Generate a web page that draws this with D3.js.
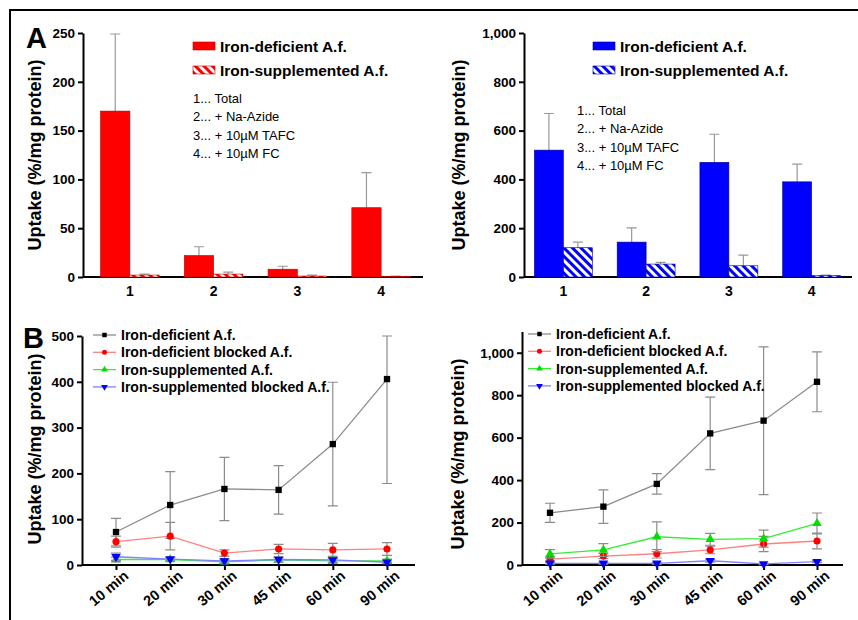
<!DOCTYPE html>
<html>
<head>
<meta charset="utf-8">
<script src="https://cdn.jsdelivr.net/npm/d3@7"></script>
<style>
  body { margin: 0; background: #fff; }
  svg { font-family: "Liberation Sans", Arial, sans-serif; }
</style>
</head>
<body>
<div id="chart"></div>
<script>
// Data

// Panel A
var categories = ["1", "2", "3", "4"];
var defA1 = [170, 22, 8, 71];
var defA1Err = [79, 9, 3, 36];
var supA1 = [2, 3, 1, 0.5];
var supA1Err = [1, 2, 1, 0.5];
var defA2 = [520, 143, 470, 390];
var defA2Err = [150, 58, 115, 73];
var supA2 = [120, 53, 46, 6];
var supA2Err = [23, 7, 44, 2];
var notes = ["1... Total", "2... + Na-Azide", "3... + 10\u00b5M TAFC", "4... + 10\u00b5M FC"];

// Panel B
var times = ["10 min", "20 min", "30 min", "45 min", "60 min", "90 min"];
var seriesNames = ["Iron-deficient A.f.", "Iron-deficient blocked A.f.",
                   "Iron-supplemented A.f.", "Iron-supplemented blocked A.f."];
var defB1 = [72, 131, 166, 164, 264, 406];
var defB1Err = [30, 73, 69, 53, 135, 228];
var defBlkB1 = [51, 63, 26, 35, 33, 35];
var defBlkB1Err = [12, 30, 7, 10, 14, 14];
var supB1 = [12, 12, 7, 11, 9, 9];
var supB1Err = [5, 4, 4, 5, 5, 4];
var supBlkB1 = [18, 13, 9, 12, 11, 6];
var supBlkB1Err = [8, 4, 5, 6, 5, 3];

var defB2 = [246, 275, 382, 620, 680, 863];
var defB2Err = [45, 79, 48, 171, 348, 141];
var defBlkB2 = [28, 42, 53, 71, 99, 113];
var defBlkB2Err = [10, 12, 20, 18, 36, 37];
var supB2 = [52, 71, 133, 121, 124, 196];
var supB2Err = [20, 30, 70, 28, 40, 49];
var supBlkB2 = [8, 8, 8, 20, 5, 16];
var supBlkB2Err = [4, 4, 4, 6, 3, 5];

var svg = d3.select("#chart").append("svg")
    .attr("width", 858)
    .attr("height", 620);

// hatch patterns
var defs = svg.append("defs");
function hatch(id, color) {
  var p = defs.append("pattern")
      .attr("id", id)
      .attr("patternUnits", "userSpaceOnUse")
      .attr("width", 6).attr("height", 6)
      .attr("patternTransform", "rotate(-45)");
  p.append("rect").attr("width", 6).attr("height", 6).attr("fill", "#fff");
  p.append("rect").attr("width", 3).attr("height", 6).attr("fill", color);
}
hatch("hatchRed", "#f00");
hatch("hatchBlue", "#00f");

// frame
svg.append("path")
    .attr("d", "M10,620V10H858")
    .attr("fill", "none")
    .attr("stroke", "#000")
    .attr("stroke-width", 2);

function styleAxis(g) {
  g.selectAll("path, line").attr("stroke", "#000").attr("stroke-width", 2);
  g.selectAll("text").attr("font-size", "13.5px").attr("font-weight", "700").attr("fill", "#000");
}

function yTitle(x, y) {
  svg.append("text")
      .attr("transform", `translate(${x},${y}) rotate(-90)`)
      .attr("text-anchor", "middle")
      .attr("font-size", "18px")
      .attr("font-weight", "700")
      .text("Uptake (%/mg protein)");
}

// ---- bar panels ----
function barPanel(o) {
  var y = d3.scaleLinear().domain([0, o.max]).range([277, 33]);
  var x = d3.scaleBand().domain(categories).range([o.bx0, o.bx1])
      .paddingInner(0.3).paddingOuter(0.15);
  var half = x.bandwidth() / 2;

  var yAxis = d3.axisLeft(y).tickValues(d3.range(0, o.max + 1, o.step))
      .tickSize(5).tickSizeOuter(0).tickFormat(d3.format(o.fmt));
  var gy = svg.append("g").attr("transform", `translate(${o.ax},0)`).call(yAxis);
  styleAxis(gy);

  var gx = svg.append("g").attr("transform", "translate(0,277)")
      .call(d3.axisBottom(x).tickSize(0).tickPadding(9));
  gx.select(".domain").remove();
  styleAxis(gx);
  gx.selectAll("text").attr("font-size", "14px");
  svg.append("line")
      .attr("x1", o.ax).attr("x2", o.axEnd)
      .attr("y1", 277).attr("y2", 277)
      .attr("stroke", "#000").attr("stroke-width", 2);

  var groups = [
    { vals: o.def, errs: o.defErr, fill: o.color, dx: -half },
    { vals: o.sup, errs: o.supErr, fill: `url(#${o.hatch})`, dx: 0 }
  ];
  groups.forEach(function (gr) {
    var g = svg.append("g");
    // error bars (upper only)
    g.selectAll(".eb").data(categories).enter().append("path")
        .attr("d", function (c, i) {
          var cx = x(c) + half + gr.dx + half / 2;
          var yt = y(gr.vals[i] + gr.errs[i]);
          return `M${cx},${y(gr.vals[i])}V${yt}M${cx - 5},${yt}H${cx + 5}`;
        })
        .attr("fill", "none")
        .attr("stroke", "#999")
        .attr("stroke-width", 1.2);
    g.selectAll("rect").data(categories).enter().append("rect")
        .attr("x", function (c) { return x(c) + half + gr.dx; })
        .attr("y", function (c, i) { return y(gr.vals[i]); })
        .attr("width", half)
        .attr("height", function (c, i) { return 277 - y(gr.vals[i]); })
        .attr("fill", gr.fill)
        .attr("stroke", o.edge)
        .attr("stroke-width", 0.6);
  });

  // legend
  var leg = [
    { label: "Iron-deficient A.f.", fill: o.color, y: 52 },
    { label: "Iron-supplemented A.f.", fill: `url(#${o.hatch})`, y: 76 }
  ];
  leg.forEach(function (l) {
    svg.append("rect")
        .attr("x", o.lx).attr("y", l.y - 10)
        .attr("width", 22).attr("height", 8)
        .attr("fill", l.fill).attr("stroke", o.edge).attr("stroke-width", 0.6);
    svg.append("text")
        .attr("x", o.lx + 27).attr("y", l.y)
        .attr("font-size", "15.5px").attr("font-weight", "700")
        .text(l.label);
  });

  svg.append("g").selectAll("text").data(notes).enter().append("text")
      .attr("x", o.nx)
      .attr("y", function (d, i) { return o.ny + i * 18.3; })
      .attr("font-size", "13px")
      .text(function (d) { return d; });
}

barPanel({ max: 250, step: 50, fmt: "d", ax: 83, axEnd: 423, bx0: 88, bx1: 423,
  def: defA1, defErr: defA1Err, sup: supA1, supErr: supA1Err,
  color: "#f00", edge: "#b00", hatch: "hatchRed", lx: 193, nx: 193, ny: 103 });
barPanel({ max: 1000, step: 200, fmt: ",", ax: 524, axEnd: 852, bx0: 522, bx1: 853,
  def: defA2, defErr: defA2Err, sup: supA2, supErr: supA2Err,
  color: "#00f", edge: "#00008b", hatch: "hatchBlue", lx: 593, nx: 577, ny: 115 });

yTitle(41, 155);
yTitle(465, 155);

// ---- line panels ----
var lineStyles = [
  { line: "#8c8c8c", mark: "#000", shape: d3.symbolSquare, size: 40, rot: 0 },
  { line: "#ff8080", mark: "#f00", shape: d3.symbolCircle, size: 40, rot: 0 },
  { line: "#33ee33", mark: "#0d0", shape: d3.symbolTriangle, size: 38, rot: 0 },
  { line: "#8080ff", mark: "#00f", shape: d3.symbolTriangle, size: 38, rot: 180 }
];

function linePanel(o) {
  var y = d3.scaleLinear().domain([0, o.top]).range([565, o.topPx]);
  var x = d3.scalePoint().domain(times).range([o.px0, o.px1]);

  var gy = svg.append("g").attr("transform", `translate(${o.ax},0)`)
      .call(d3.axisLeft(y).tickValues(d3.range(0, o.max + 1, o.step))
        .tickSize(5).tickSizeOuter(0).tickFormat(d3.format(o.fmt)));
  styleAxis(gy);

  var gx = svg.append("g").attr("transform", "translate(0,565)")
      .call(d3.axisBottom(x).tickSize(5));
  gx.select(".domain").remove();
  styleAxis(gx);
  gx.selectAll("text")
      .attr("font-size", "14.5px")
      .attr("text-anchor", "end")
      .attr("transform", "translate(6,4) rotate(-40)")
      .attr("dx", 0).attr("dy", "0.75em").attr("y", 0);
  svg.append("line")
      .attr("x1", o.ax).attr("x2", o.axEnd)
      .attr("y1", 565).attr("y2", 565)
      .attr("stroke", "#000").attr("stroke-width", 2);

  var line = d3.line().x(function (d, i) { return x(times[i]); }).y(function (d) { return y(d); });

  o.series.forEach(function (s, k) {
    var st = lineStyles[k];
    var g = svg.append("g");
    g.selectAll(".eb").data(s.vals).enter().append("path")
        .attr("d", function (d, i) {
          var cx = x(times[i]);
          var hi = y(Math.min(d + s.errs[i], o.top));
          var lo = y(Math.max(d - s.errs[i], 0));
          return `M${cx},${lo}V${hi}M${cx - 5},${hi}H${cx + 5}M${cx - 5},${lo}H${cx + 5}`;
        })
        .attr("fill", "none")
        .attr("stroke", "#8c8c8c")
        .attr("stroke-width", 1.2);
    g.append("path").datum(s.vals)
        .attr("d", line)
        .attr("fill", "none")
        .attr("stroke", st.line)
        .attr("stroke-width", 1.3);
    g.selectAll(".mk").data(s.vals).enter().append("path")
        .attr("d", d3.symbol().type(st.shape).size(st.size))
        .attr("transform", function (d, i) {
          return `translate(${x(times[i])},${y(d)}) rotate(${st.rot})`;
        })
        .attr("fill", st.mark);
  });

  // legend
  seriesNames.forEach(function (name, k) {
    var st = lineStyles[k];
    var cy = o.ly + k * 17.3;
    svg.append("line")
        .attr("x1", o.lx).attr("x2", o.lx + 23)
        .attr("y1", cy).attr("y2", cy)
        .attr("stroke", st.line).attr("stroke-width", 1.3);
    svg.append("path")
        .attr("d", d3.symbol().type(st.shape).size(20))
        .attr("transform", `translate(${o.lx + 11.5},${cy}) rotate(${st.rot})`)
        .attr("fill", st.mark);
    svg.append("text")
        .attr("x", o.lx + 28).attr("y", cy + 5)
        .attr("font-size", "14px").attr("font-weight", "700")
        .text(name);
  });
}

linePanel({ top: 500, topPx: 336, max: 500, step: 100, fmt: "d",
  ax: 82, axEnd: 415, px0: 116, px1: 387, lx: 93, ly: 335,
  series: [
    { vals: defB1, errs: defB1Err },
    { vals: defBlkB1, errs: defBlkB1Err },
    { vals: supB1, errs: supB1Err },
    { vals: supBlkB1, errs: supBlkB1Err }
  ] });
linePanel({ top: 1100, topPx: 331.5, max: 1000, step: 200, fmt: ",",
  ax: 522, axEnd: 843, px0: 550, px1: 817, lx: 528, ly: 334,
  series: [
    { vals: defB2, errs: defB2Err },
    { vals: defBlkB2, errs: defBlkB2Err },
    { vals: supB2, errs: supB2Err },
    { vals: supBlkB2, errs: supBlkB2Err }
  ] });

yTitle(41, 449);
yTitle(464, 454);

// panel letters
svg.append("text").attr("x", 26).attr("y", 48)
    .attr("font-size", "29px").attr("font-weight", "700").text("A");
svg.append("text").attr("x", 23).attr("y", 348)
    .attr("font-size", "29px").attr("font-weight", "700").text("B");
</script>
</body>
</html>
